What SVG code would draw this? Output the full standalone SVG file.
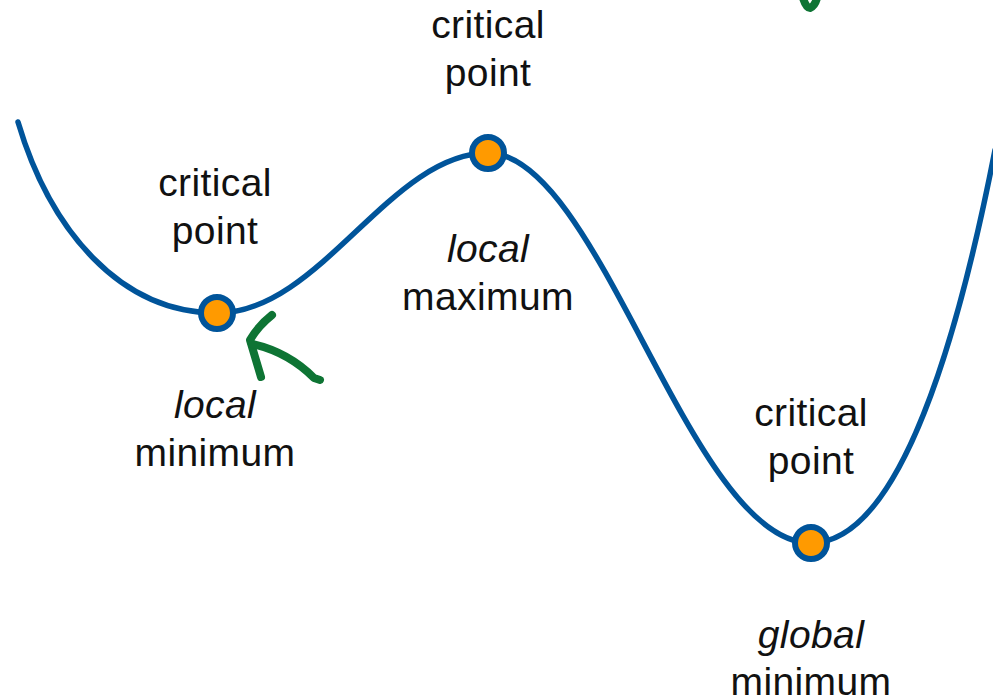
<svg xmlns="http://www.w3.org/2000/svg" width="993" height="699" viewBox="0 0 993 699">
<style>
.t{font-family:"Liberation Sans",Arial,sans-serif;font-size:39px;letter-spacing:0.4px;fill:#111;text-anchor:middle}
.i{font-style:italic}
.pt{fill:#FF9A00;stroke:#00549A;stroke-width:6}
.ink{fill:none;stroke:#0E7434;stroke-width:8;stroke-linecap:round;stroke-linejoin:round}
</style>
<rect width="993" height="699" fill="#fff"/>
<g id="connectors">
<path id="curve" d="M18,122 C50,230 120,313 217,313 C320,313 390,153 488,153 C600,153 690,543 811,543 C890,543 950,380 995,150" fill="none" stroke="#00549A" stroke-width="5.5" stroke-linecap="round"/>
<path class="ink" d="M272,315 Q258,326 250,340 L261,377"/>
<path class="ink" d="M252,344 Q288,352 314,378 L320,380"/>
<path class="ink" d="M803,-2 Q806,8 810,8 Q815,6 817,-2"/>
</g>
<g id="minLocal">
<circle class="pt" cx="217" cy="313" r="16"/>
<text class="t" x="215" y="196">critical</text>
<text class="t" x="215" y="244">point</text>
<text class="t i" x="215" y="418">local</text>
<text class="t" x="215" y="466">minimum</text>
</g>
<g id="maxLocal">
<circle class="pt" cx="488" cy="153" r="16"/>
<text class="t" x="488" y="38">critical</text>
<text class="t" x="488" y="86">point</text>
<text class="t i" x="488" y="262">local</text>
<text class="t" x="488" y="310">maximum</text>
</g>
<g id="minGlobal">
<circle class="pt" cx="811" cy="543" r="16"/>
<text class="t" x="811" y="426">critical</text>
<text class="t" x="811" y="474">point</text>
<text class="t i" x="811" y="648">global</text>
<text class="t" x="811" y="695">minimum</text>
</g>
</svg>
